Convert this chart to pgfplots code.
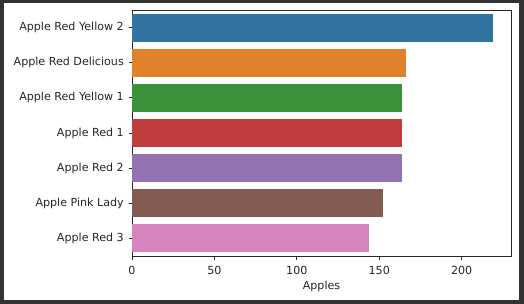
\documentclass[border=0pt]{standalone}
\usepackage{pgfplots}
\pgfplotsset{compat=1.18}
\usepackage{fontspec}
\setmainfont{DejaVu Sans}
\definecolor{bgdark}{HTML}{333333}
\definecolor{c0}{HTML}{3274A1}
\definecolor{c1}{HTML}{E1812C}
\definecolor{c2}{HTML}{3A923A}
\definecolor{c3}{HTML}{C03D3E}
\definecolor{c4}{HTML}{9372B2}
\definecolor{c5}{HTML}{845B53}
\definecolor{c6}{HTML}{D684BD}
\begin{document}
\begin{tikzpicture}[x=1pt,y=1pt]
\fill[bgdark] (0,0) rectangle (524,304);
\fill[white] (4,4) rectangle (519,301);
\begin{axis}[
  at={(132pt,48pt)}, anchor=south west,
  width=379pt, height=246pt, scale only axis,
  xbar, bar shift=0pt, bar width=0.8,
  xmin=0, xmax=229.95, ymin=-0.5, ymax=6.5,
  y dir=reverse,
  ytick={0,1,2,3,4,5,6},
  yticklabels={Apple Red Yellow 2,Apple Red Delicious,Apple Red Yellow 1,Apple Red 1,Apple Red 2,Apple Pink Lady,Apple Red 3},
  xtick={0,50,100,150,200},
  xtick pos=lower, ytick pos=left,
  tick align=outside, major tick length=3.5pt,
  tick style={black!85, line width=0.8pt},
  axis line style={black!85, line width=0.8pt},
  font=\fontsize{11.1}{13}\selectfont,
  /pgf/number format/assume math mode=true,
  xticklabel style={inner sep=0pt, yshift=-7pt, text=black!85},
  yticklabel style={inner sep=0pt, xshift=-4.5pt, text=black!85},
  xlabel={Apples},
  xlabel style={inner sep=0pt, yshift=-6pt, text=black!85},
  every axis plot/.append style={draw=none},
]
\addplot[fill=c0] coordinates {(219,0)};
\addplot[fill=c1] coordinates {(166,1)};
\addplot[fill=c2] coordinates {(164,2)};
\addplot[fill=c3] coordinates {(164,3)};
\addplot[fill=c4] coordinates {(164,4)};
\addplot[fill=c5] coordinates {(152,5)};
\addplot[fill=c6] coordinates {(144,6)};
\end{axis}
\end{tikzpicture}
\end{document}
